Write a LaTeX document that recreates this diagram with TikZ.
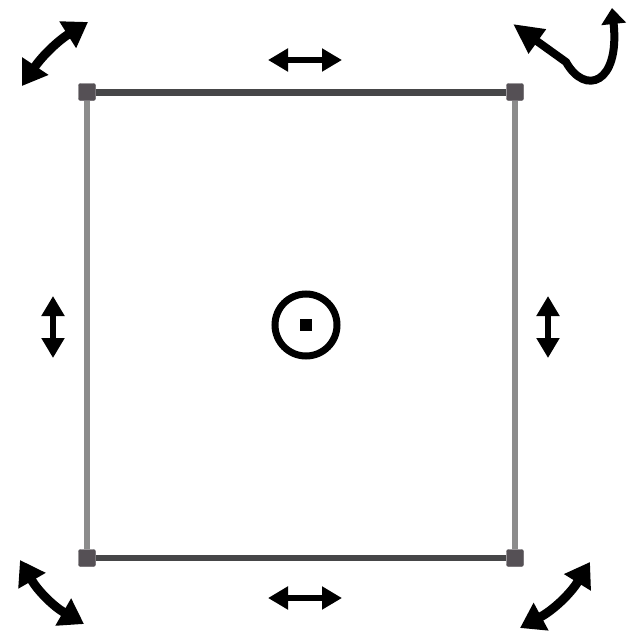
\documentclass[tikz,border=0pt]{standalone}
\usepackage{tikz}
\usetikzlibrary{arrows.meta}
\definecolor{edgeD}{RGB}{70,70,72}
\definecolor{edgeL}{RGB}{140,140,140}
\definecolor{handleC}{RGB}{85,80,85}
\tikzset{
  handle/.style={draw=handleC, fill=handleC, minimum size=17pt, inner sep=0pt, rounded corners=2pt},
  resize/.style={line width=6pt, black, {Triangle[length=20pt,width=22pt]}-{Triangle[length=20pt,width=22pt]}},
  rotor/.style={line width=9pt, black, {Triangle[length=24pt,width=30pt]}-{Triangle[length=24pt,width=30pt]}}
}

\begin{document}
\begin{tikzpicture}[x=1pt, y=-1pt]
\useasboundingbox (0,0) rectangle (633,634);
% corner handles of the box
\node[handle] (tl) at (87,92) {};
\node[handle] (tr) at (515,92) {};
\node[handle] (bl) at (87,558) {};
\node[handle] (br) at (515,558) {};
% the box edges
\draw[edgeL, line width=6pt] (tl) -- (bl);
\draw[edgeL, line width=6pt] (tr) -- (br);
\draw[edgeD, line width=7pt] (tl) -- (tr);
\draw[edgeD, line width=6pt] (bl) -- (br);
% centre marker
\node[draw=black, circle, line width=7pt, minimum size=62pt, inner sep=0pt] (ctr) at (306,325) {};
\node[fill=black, minimum size=12pt, inner sep=0pt] (dot) at (ctr) {};
% side resize arrows
\coordinate (n1) at (268,60);  \coordinate (n2) at (342,60);
\coordinate (s1) at (268,598); \coordinate (s2) at (342,598);
\coordinate (w1) at (53,296);  \coordinate (w2) at (53,358);
\coordinate (e1) at (548,296); \coordinate (e2) at (548,358);
\draw[resize] (n1) -- (n2);
\draw[resize] (s1) -- (s2);
\draw[resize] (w1) -- (w2);
\draw[resize] (e1) -- (e2);
% corner arrows
\coordinate (a1) at (22,86);  \coordinate (a2) at (88,22);
\coordinate (b1) at (20,560); \coordinate (b2) at (84,624);
\coordinate (c1) at (520,628); \coordinate (c2) at (590,562);
\draw[rotor] (a1) to[bend left=12] (a2);
\draw[rotor] (b1) to[bend right=15] (b2);
\draw[rotor] (c2) to[bend left=15] (c1);
% rotation icon
\coordinate (r1) at (513,24);
\coordinate (r2) at (612,8);
\draw[line width=8pt, black, {Triangle[length=30pt,width=28pt]}-{Triangle[length=16pt,width=24pt]}]
  (r1) -- (566,62) .. controls (585,96) and (620,84) .. (r2);
\end{tikzpicture}
\end{document}
